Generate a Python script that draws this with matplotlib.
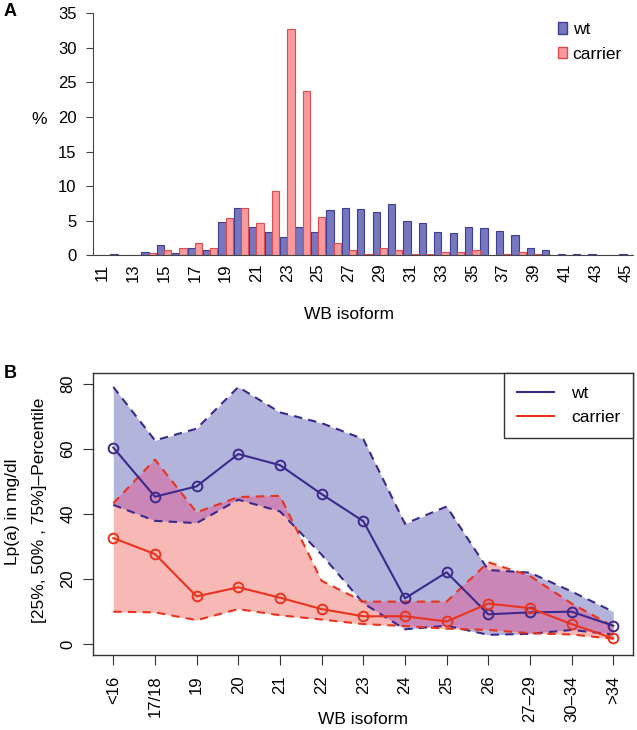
import numpy as np
import matplotlib
matplotlib.use('Agg')
import matplotlib.pyplot as plt
from matplotlib.patches import Patch
from matplotlib.lines import Line2D

plt.rcParams['font.family'] = ['Liberation Sans', 'DejaVu Sans']

# Panel A: isoform distribution (%)
isoforms = list(range(11, 46))
wt_pct = [0.1, 0.2, 0.1, 0.5, 1.5, 0.4, 1.1, 0.7, 4.8, 6.9,
          4.1, 3.3, 2.6, 4.1, 3.3, 6.5, 6.8, 6.7, 6.3, 7.4,
          5.0, 4.6, 3.3, 3.2, 4.1, 3.9, 3.5, 2.9, 1.0, 0.8,
          0.25, 0.25, 0.25, 0.1, 0.25]
carrier_pct = [0, 0, 0, 0.3, 0.8, 1.1, 1.8, 1.0, 5.4, 6.9,
               4.6, 9.3, 32.7, 23.7, 5.5, 1.8, 0.7, 0.25, 1.1, 0.7,
               0.25, 0.25, 0.5, 0.5, 0.7, 0, 0.25, 0.5, 0.25, 0,
               0, 0, 0, 0, 0]

# Panel B: Lp(a) percentiles per isoform group
groups = ['<16', '17/18', '19', '20', '21', '22', '23', '24', '25', '26',
          '27\u201329', '30\u201334', '>34']
wt_q25 = [42.8, 37.9, 37.2, 44.4, 40.8, 27.5, 12.6, 4.6, 5.7, 2.9, 3.2, 4.4, 3.0]
wt_q50 = [60.4, 45.3, 48.5, 58.4, 55.0, 46.1, 37.8, 14.1, 22.1, 9.2, 9.8, 10.0, 5.7]
wt_q75 = [79.0, 62.6, 66.2, 79.0, 71.2, 67.9, 63.0, 37.0, 42.3, 22.8, 22.0, 16.2, 10.0]
car_q25 = [10.0, 9.8, 7.4, 10.8, 8.9, 7.6, 6.2, 5.6, 4.8, 4.4, 3.4, 3.0, 1.7]
car_q50 = [32.6, 27.7, 14.7, 17.5, 14.3, 10.8, 8.6, 8.6, 7.0, 12.5, 11.1, 6.2, 1.8]
car_q75 = [43.3, 56.7, 40.5, 45.2, 45.6, 19.5, 13.1, 13.1, 13.1, 25.2, 21.0, 12.5, 5.5]

W, H = 637, 730
fig = plt.figure(figsize=(W / 100, H / 100), dpi=100)


def px_axes(l, t, r, b):
    return fig.add_axes([l / W, 1 - b / H, (r - l) / W, (b - t) / H])


# ---- Panel A ----
ax1 = px_axes(93.3, 13.3, 633.3, 255.3)
x = np.arange(len(isoforms))
w = 0.47
ax1.bar(x - w / 2, wt_pct, w, color='#7677bf', edgecolor='#3e3e96', linewidth=0.8)
ax1.bar(x + w / 2, carrier_pct, w, color='#f89a9b', edgecolor='#dd4a52', linewidth=0.8)
ax1.set_xlim(-0.58, 34.44)
ax1.set_ylim(0, 35)
ax1.set_yticks(range(0, 36, 5))
ax1.set_xticks(x[::2])
ax1.set_xticklabels([str(i) for i in isoforms[::2]], rotation=90, va='top')
ax1.tick_params(axis='x', length=0, pad=6, labelsize=12)
ax1.tick_params(axis='y', length=5, pad=7, labelsize=12, color='#444444')
for s in ['top', 'right']:
    ax1.spines[s].set_visible(False)
ax1.spines['left'].set_color('#444444')
ax1.spines['bottom'].set_color('#444444')
ax1.spines['left'].set_bounds(0, 35)
ax1.legend(handles=[Patch(facecolor='#7677bf', edgecolor='#3e3e96', label='wt'),
                    Patch(facecolor='#f89a9b', edgecolor='#dd4a52', label='carrier')],
           loc='upper right', bbox_to_anchor=(0.995, 1.0), frameon=False,
           handlelength=0.55, handleheight=0.65, handletextpad=0.3,
           labelspacing=0.55, borderaxespad=0.1, fontsize=12.5)
fig.text(349 / W, 1 - 315 / H, 'WB isoform', ha='center', va='center', fontsize=12.5)
fig.text(39 / W, 1 - 120 / H, '%', ha='center', va='center', fontsize=12.5)
fig.text(10 / W, 1 - 12 / H, 'A', ha='center', va='center', fontsize=13, fontweight='bold')

# ---- Panel B ----
ax2 = px_axes(93.3, 373.3, 633.3, 654.7)
xb = np.arange(len(groups))
wt_dark = '#3b2a8c'
car_red = '#e8341c'
ax2.fill_between(xb, wt_q25, wt_q75, color='#b3b4dc', linewidth=0)
ax2.fill_between(xb, car_q25, car_q75, color='#f7b8b6', linewidth=0)
# overlap of both bands
xf = np.linspace(0, len(groups) - 1, 1201)
lo = np.maximum(np.interp(xf, xb, wt_q25), np.interp(xf, xb, car_q25))
hi = np.minimum(np.interp(xf, xb, wt_q75), np.interp(xf, xb, car_q75))
ax2.fill_between(xf, lo, hi, where=hi > lo, color='#c986b6', linewidth=0)

dash = (0, (4, 3))
for q in (wt_q25, wt_q75):
    ax2.plot(xb, q, color=wt_dark, linestyle=dash, linewidth=1.5)
for q in (car_q25, car_q75):
    ax2.plot(xb, q, color=car_red, linestyle=dash, linewidth=1.5)
ax2.plot(xb, wt_q50, color=wt_dark, linewidth=1.5, marker='o', markersize=7,
         markerfacecolor='none', markeredgewidth=1.4)
ax2.plot(xb, car_q50, color=car_red, linewidth=1.5, marker='o', markersize=7,
         markerfacecolor='none', markeredgewidth=1.4)

ax2.set_xlim(-0.48, 12.48)
ax2.set_ylim(-3.2, 83.2)
ax2.set_yticks([0, 20, 40, 60, 80])
ax2.set_yticklabels(['0', '20', '40', '60', '80'], rotation=90, va='center')
ax2.set_xticks(xb)
ax2.set_xticklabels(groups, rotation=90, va='top')
ax2.tick_params(axis='x', length=7, pad=8, labelsize=12, color='#333333')
ax2.tick_params(axis='y', length=7, pad=6, labelsize=12, color='#333333')
for s in ax2.spines.values():
    s.set_color('#333333')
    s.set_linewidth(1.0)

leg = ax2.legend(handles=[Line2D([], [], color=wt_dark, linewidth=1.5, label='wt'),
                          Line2D([], [], color=car_red, linewidth=1.5, label='carrier')],
                 loc='upper right', bbox_to_anchor=(1.0, 1.0), borderaxespad=0,
                 fancybox=False, edgecolor='#333333', framealpha=1,
                 handlelength=2.1, handletextpad=1.0, borderpad=0.75,
                 labelspacing=0.5, fontsize=12.5)
leg.get_frame().set_linewidth(1.0)

fig.text(363 / W, 1 - 719 / H, 'WB isoform', ha='center', va='center', fontsize=12.5)
fig.text(13 / W, 1 - 512 / H, 'Lp(a) in mg/dl', ha='center', va='center',
         rotation=90, fontsize=12.5)
fig.text(39.5 / W, 1 - 510 / H, '[25%, 50% , 75%]\u2013Percentile', ha='center',
         va='center', rotation=90, fontsize=12.5)
fig.text(10 / W, 1 - 374 / H, 'B', ha='center', va='center', fontsize=13, fontweight='bold')

fig.savefig('out.png', dpi=100)
